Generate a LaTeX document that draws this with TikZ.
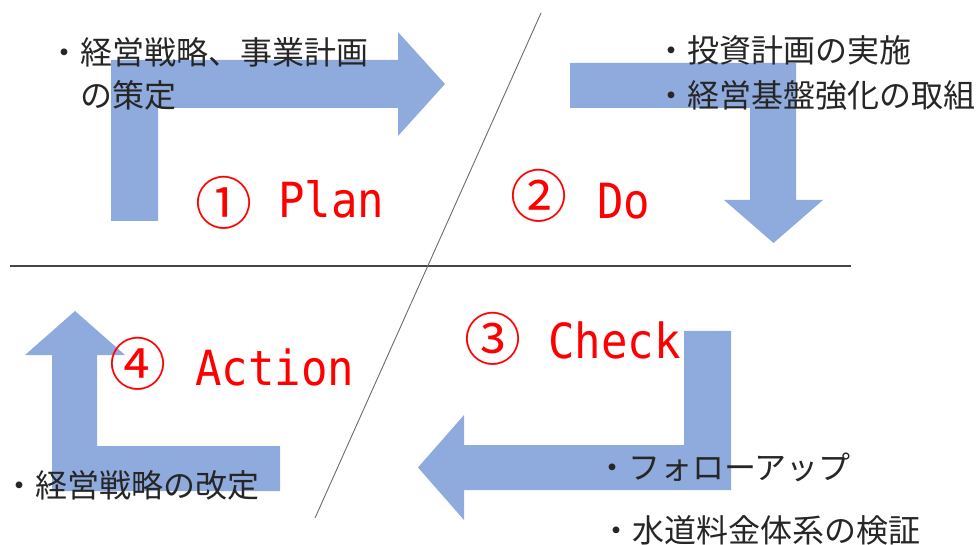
\documentclass[tikz,border=0pt]{standalone}
\usepackage{fontspec}
\newfontfamily\jpfont{Noto Sans CJK JP}
\newfontfamily\monofont{DejaVu Sans Mono}
\definecolor{arrowblue}{RGB}{143,170,220}
\definecolor{textgray}{RGB}{38,38,38}
\definecolor{linegray}{RGB}{70,70,70}
\tikzset{
  arrowshape/.style={fill=arrowblue, draw=none},
  jptext/.style={anchor=west, inner sep=0pt, text=textgray, font=\jpfont\fontsize{32}{43}\selectfont},
  numcircle/.style={anchor=center, inner sep=0pt, text=red, font=\jpfont\fontsize{57}{57}\selectfont},
  phaseword/.style={anchor=base west, inner sep=0pt, text=red, font=\monofont\fontsize{44}{44}\selectfont},
  divider/.style={draw=linegray, line width=1.8pt},
  slash/.style={draw=linegray!80, line width=0.9pt}
}
\newcommand{\tallword}[1]{\scalebox{1}[1.1]{#1}}
\begin{document}
\begin{tikzpicture}[x=1pt, y=-1pt]
\useasboundingbox (0,0) rectangle (980,545);
% divider lines
\coordinate (hl) at (10,266);
\coordinate (hr) at (851,266);
\coordinate (dt) at (541,13);
\coordinate (db) at (315,518);
\draw[divider] (hl) -- (hr);
\draw[slash] (dt) -- (db);
% Plan arrow
\fill[arrowshape] (111,221) -- (111,60) -- (398,60) -- (398,32) -- (445,84) -- (398,136) -- (398,108) -- (158,108) -- (158,221) -- cycle;
% Do arrow
\fill[arrowshape] (570,63) -- (796,63) -- (796,200) -- (823,200) -- (773.5,243) -- (724,200) -- (750,200) -- (750,108) -- (570,108) -- cycle;
% Check arrow
\fill[arrowshape] (684,331) -- (731,331) -- (731,490) -- (464,490) -- (464,520) -- (418,467.5) -- (464,415) -- (464,445) -- (684,445) -- cycle;
% Action arrow
\fill[arrowshape] (280,446) -- (280,491) -- (52,491) -- (52,355) -- (25,355) -- (75,311) -- (125,355) -- (97,355) -- (97,446) -- cycle;
% Japanese texts
\node[jptext] (plan1) at (48,52) {・経営戦略、事業計画};
\node[jptext] (plan2) at (80,95) {の策定};
\node[jptext] (do1) at (655,50) {・投資計画の実施};
\node[jptext] (do2) at (655,95) {・経営基盤強化の取組};
\node[jptext] (chk1) at (596,467) {・フォローアップ};
\node[jptext] (chk2) at (600,530) {・水道料金体系の検証};
\node[jptext] (act1) at (3,485) {・経営戦略の改定};
% phase labels
\node[numcircle] (n1) at (223.5,202.5) {①};
\node[phaseword] (w1) at (278,218) {\tallword{Plan}};
\node[numcircle] (n2) at (539,196) {②};
\node[phaseword] (w2) at (597,219) {\tallword{Do}};
\node[numcircle] (n3) at (493,339) {③};
\node[phaseword] (w3) at (548,358) {\tallword{Check}};
\node[numcircle] (n4) at (138,364) {④};
\node[phaseword] (w4) at (195,385) {\tallword{Action}};
\end{tikzpicture}
\end{document}
